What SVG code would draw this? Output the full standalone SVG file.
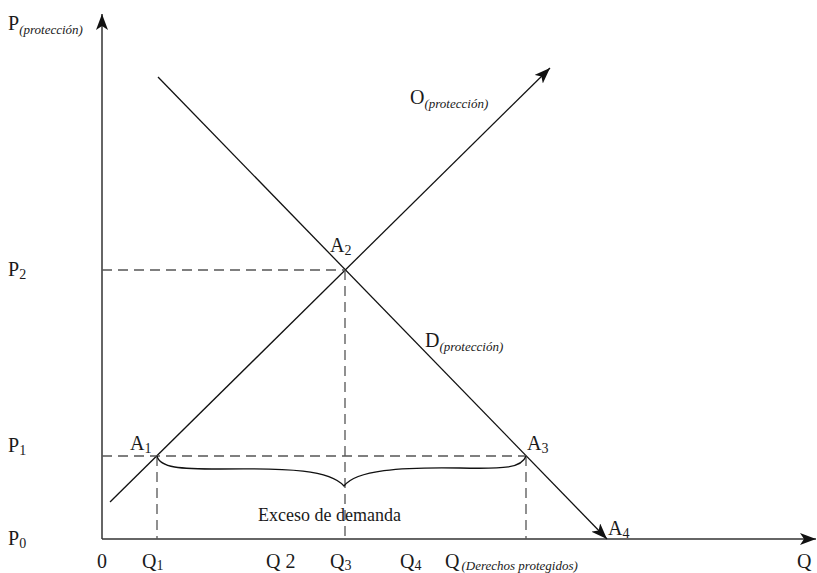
<svg xmlns="http://www.w3.org/2000/svg" width="817" height="573" viewBox="0 0 817 573">
<style>
text{font-family:"Liberation Serif","DejaVu Serif",serif;fill:#1a1a1a}
.lbl{font-size:20px}
.sub{font-size:14px}
.it{font-size:13px;font-style:italic}
.ax{stroke:#333;stroke-width:1.5;fill:none}
.ln{stroke:#111;stroke-width:1.3;fill:none}
.dash{stroke:#555;stroke-width:1.3;stroke-dasharray:10 6;fill:none}
</style>
<defs>
<marker id="ah" markerUnits="userSpaceOnUse" markerWidth="18" markerHeight="12" refX="16" refY="6" orient="auto">
<path d="M0,0 L16,6 L0,12 L4,6 Z" fill="#111"/>
</marker>
</defs>
<g id="connectors">
<line id="y-axis" class="ax" x1="102" y1="539" x2="102" y2="14" marker-end="url(#ah)"/>
<line id="x-axis" class="ax" x1="102" y1="539" x2="816" y2="539" marker-end="url(#ah)"/>
<line id="supply" class="ln" x1="110" y1="502" x2="550" y2="68" marker-end="url(#ah)"/>
<line id="demand" class="ln" x1="158" y1="77" x2="607" y2="539" marker-end="url(#ah)"/>
<line class="dash" x1="102" y1="270" x2="345" y2="270"/>
<line class="dash" x1="345" y1="270" x2="345" y2="539"/>
<line class="dash" x1="102" y1="456" x2="526" y2="456"/>
<line class="dash" x1="157" y1="456" x2="157" y2="539"/>
<line class="dash" x1="526" y1="456" x2="526" y2="539"/>
<path id="brace" class="ln" d="M157,456 C160,468 180,469 220,469 C290,468 330,470 344,486 C356,470 400,467 460,468 C505,469 522,468 526,456"/>
</g>
<g id="axis-labels">
<text class="lbl" x="8" y="30">P<tspan class="it" dy="4">(protección)</tspan></text>
<text class="lbl" x="8" y="276">P<tspan class="sub" dy="3">2</tspan></text>
<text class="lbl" x="8" y="452">P<tspan class="sub" dy="3">1</tspan></text>
<text class="lbl" x="8" y="545">P<tspan class="sub" dy="3">0</tspan></text>
<text class="lbl" x="97" y="568">0</text>
<text class="lbl" x="142" y="568">Q<tspan class="sub" dy="2">1</tspan></text>
<text class="lbl" x="266" y="568">Q 2</text>
<text class="lbl" x="330" y="568">Q<tspan class="sub" dy="2">3</tspan></text>
<text class="lbl" x="400" y="568">Q<tspan class="sub" dy="2">4</tspan></text>
<text class="lbl" x="445" y="568">Q<tspan class="it" dy="2" dx="2">(Derechos protegidos)</tspan></text>
<text class="lbl" x="797" y="568">Q</text>
</g>
<g id="curve-labels">
<text class="lbl" x="410" y="104">O<tspan class="it" dy="4">(protección)</tspan></text>
<text class="lbl" x="425" y="347">D<tspan class="it" dy="4">(protección)</tspan></text>
</g>
<g id="points">
<text class="lbl" x="330" y="252">A<tspan class="sub" dy="3">2</tspan></text>
<text class="lbl" x="130" y="450">A<tspan class="sub" dy="3">1</tspan></text>
<text class="lbl" x="527" y="450">A<tspan class="sub" dy="3">3</tspan></text>
<text class="lbl" x="608" y="535">A<tspan class="sub" dy="3">4</tspan></text>
</g>
<g id="brace-label">
<text x="258" y="521" style="font-size:18px">Exceso de demanda</text>
</g>
</svg>
